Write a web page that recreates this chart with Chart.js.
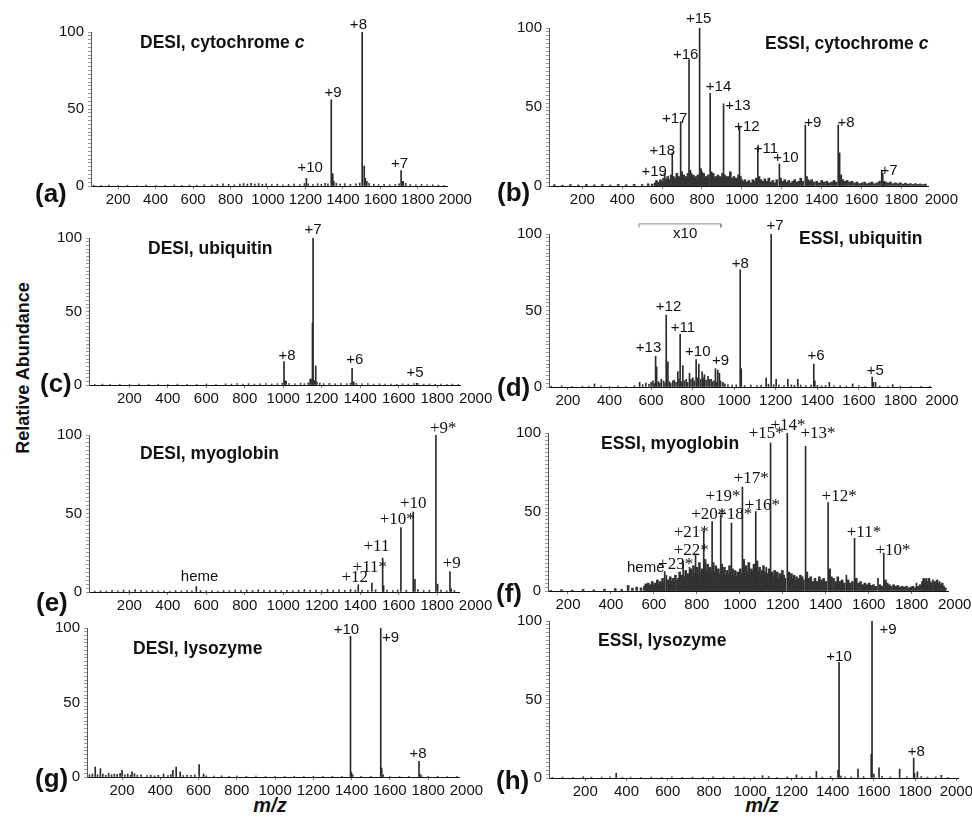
<!DOCTYPE html>
<html>
<head>
<meta charset="utf-8">
<script src="https://cdn.jsdelivr.net/npm/chart.js@4.4.1/dist/chart.umd.min.js"></script>
<style>
    body { margin: 0; width: 972px; height: 818px; position: relative; overflow: hidden; background: #fff; color: #111; font-family: "Liberation Sans", Arial, sans-serif; }
    canvas { position: absolute; }
    .title { position: absolute; font-weight: bold; font-size: 17.5px; white-space: nowrap; transform: translateY(-50%); }
    .letter { position: absolute; font-weight: bold; font-size: 26px; transform: translateY(-50%); }
    .ylab { position: absolute; left: 23px; top: 368px; font-weight: bold; font-size: 18px; white-space: nowrap; transform: translate(-50%, -50%) rotate(-90deg); }
    .xlab { position: absolute; font-weight: bold; font-style: italic; font-size: 20px; transform: translate(-50%, -50%); }
</style>
</head>
<body>
<div class="ylab">Relative Abundance</div>
<div class="xlab" style="left:270px;top:805px">m/z</div>
<div class="xlab" style="left:762px;top:805px">m/z</div>
<script>
// tick labels on every m/z axis
const mzTicks = [200, 400, 600, 800, 1000, 1200, 1400, 1600, 1800, 2000];
const yLabelTicks = [0, 50, 100];

// (a) DESI, cytochrome c  -- [m/z, relative abundance]
const aPeaks = [[1503, 100], [1514, 13], [1338, 56], [1346, 8], [1205, 5], [1711, 10], [1718, 3]];
const aNoise = [[70,0.5],[110,0.3],[150,0.6],[200,0.4],[250,0.5],[300,0.3],[350,0.6],[400,0.4],[450,0.5],[500,0.7],[540,0.4],[580,0.6],[620,0.5],[660,0.8],[700,0.6],[730,1.0],[760,1.4],[790,1.1],[820,0.8],[850,1.3],[870,1.6],[890,1.2],[910,1.8],[930,1.3],[950,1.6],[970,1.1],[990,1.4],[1020,0.9],[1050,1.2],[1080,0.8],[1110,1.0],[1140,1.3],[1170,0.9],[1195,1.6],[1215,1.4],[1240,1.0],[1265,1.5],[1285,1.1],[1305,1.8],[1320,1.4],[1352,3.0],[1365,1.8],[1385,1.2],[1410,1.5],[1440,1.1],[1470,1.4],[1490,1.9],[1520,5.0],[1528,3.0],[1540,1.8],[1565,1.2],[1590,0.9],[1620,1.1],[1650,0.8],[1680,1.0],[1700,1.4],[1722,3.0],[1735,1.8],[1760,1.0],[1790,0.8],[1820,1.0],[1850,0.7],[1880,0.8],[1910,0.6],[1940,0.5]];
const aLabelText = ['+10', '+9', '+8', '+7'];
const aLabelMz = [1225, 1347, 1483, 1702];
const aLabelY = [11.5, 60.6, 104.5, 14.7];

// (b) ESSI, cytochrome c
const bPeaks = [[788,100],[735,80],[841,58.7],[908,52],[988,37.5],[693,40.7],[651,21],[613,8],[1080,25],[1188,14],[1318,38.6],[1483,38.6],[1490,21],[1701,10],[1706,8]];
const bNoise = [[60,0.8],[100,0.5],[140,0.9],[180,0.6],[220,1.0],[260,0.7],[300,0.9],[340,0.6],[380,1.0],[420,0.8],[460,1.1],[500,0.9],[530,1.4],[550,1.2],
    [565,2],[572,3.5],[578,1.5],[585,2.5],[592,4],[598,2],[604,3],[608,5],[618,4.5],[622,3],[628,6],[634,3.5],[640,4],[645,7],[657,6],[662,4],[668,5],[674,8],[680,4.5],[686,6],[698,9],[703,6],[708,7],[714,4],[720,6],[726,5],[730,8],[740,10],[745,8],[750,6],[756,7],[762,5],[768,6],[774,4],[780,7],[793,11],[798,9],[803,7],[808,8],[814,5],[820,6],[826,4],[832,7],[846,9],[851,7],[856,8],[862,5],[868,6],[874,4.5],[880,7],[886,5],[892,6],[898,4],[903,8],[913,7],[918,5],[924,6],[930,4],[936,6],[942,9],[948,5],[954,4],[960,6],[966,3.5],[972,5],[978,4],[983,7],[993,6],[998,4],
    [1005,3],[1015,4],[1025,2.5],[1035,3.5],[1045,2],[1055,4],[1065,3],[1072,5],[1086,6],[1095,4],[1105,3],[1115,4.5],[1125,3],[1135,5],[1145,2.5],[1155,3.5],[1165,2],[1175,4],[1194,5],[1205,3],[1215,4],[1225,2.5],[1235,3.5],[1245,2],[1255,3],[1265,4],[1275,2.5],[1285,3],[1295,5],[1305,3],[1324,6],[1332,4],[1340,3],[1350,4],[1362,2.5],[1375,3],[1388,2],[1400,3.5],[1412,2.5],[1425,3],[1438,2],[1450,2.5],[1462,3.5],[1472,2.5],[1496,7],[1505,4],[1515,3],[1528,3.5],[1540,2.5],[1552,3],[1565,2],[1578,2.5],[1590,1.5],[1602,2],[1615,2.5],[1628,1.5],[1640,2],[1652,2.5],[1665,1.5],[1678,2],[1690,3],[1712,3],[1720,2.5],[1732,2],[1745,2.5],[1758,1.5],[1770,2],[1782,1.5],[1795,2],[1808,1.2],[1820,1.8],[1832,1.2],[1845,1.5],[1858,1],[1870,1.5],[1882,1],[1895,1.3],[1908,0.9],[1920,1.2]];
const bLabelText = ['+19','+18','+17','+16','+15','+14','+13','+12','+11','+10','+9','+8','+7'];
const bLabelMz = [560, 601, 663, 718, 783, 883, 980, 1025, 1121, 1221, 1355, 1522, 1738];
const bLabelY = [9, 22.4, 42.8, 83, 105.5, 62.5, 50.8, 37.5, 23.4, 17.5, 39.7, 39.7, 9.7];

// (c) DESI, ubiquitin
const cPeaks = [[1155,100],[1152,42],[1169,13],[1140,4],[1004,15.9],[1010,3],[1358,11.4],[1365,2],[1694,1.2]];
const cNoise = [[20,0.4],[60,0.6],[100,0.3],[150,0.5],[200,0.4],[250,0.6],[300,0.4],[350,0.5],[400,0.3],[450,0.6],[500,0.5],[550,0.4],[600,0.7],[650,0.5],[700,0.8],[730,0.6],[760,1.0],[790,0.7],[820,0.9],[850,0.6],[880,0.8],[910,1.0],[940,0.7],[970,0.9],[995,1.2],[1015,2.5],[1030,1.0],[1060,0.8],[1090,1.1],[1110,0.9],[1130,1.5],[1145,4.0],[1162,3.0],[1175,2.0],[1190,1.2],[1210,0.9],[1240,1.1],[1270,0.8],[1300,1.0],[1330,0.9],[1350,1.3],[1366,2.0],[1380,1.1],[1410,0.8],[1440,0.9],[1470,0.6],[1500,0.8],[1530,0.6],[1560,0.7],[1590,0.5],[1620,0.8],[1650,0.6],[1680,1.0],[1700,0.9],[1730,0.6],[1760,0.7],[1790,0.5],[1820,0.6],[1850,0.4],[1880,0.6],[1910,0.4]];
const cLabelText = ['+8', '+7', '+6', '+5'];
const cLabelMz = [1020, 1155, 1372, 1685];
const cLabelY = [20, 105.7, 17, 8.4];

// (d) ESSI, ubiquitin (560-940 region shown x10)
const dPeaks = [[1178,100],[1029,76.6],[1034,12],[673,47],[681,16.4],[740,34.4],[753,14],[622,20],[627,13],[817,18],[830,15],[910,12],[921,11],[929,9],[1383,15],[1388,4],[1664,6.5],[1669,3],[545,3],[609,4],[649,5],[705,4],[729,10],[769,5],[785,9],[801,6],[846,10],[857,8],[874,7],[889,5],[946,3],[328,2],[1154,6],[1202,5],[1258,5],[1306,5],[1458,3],[1570,2],[1680,3],[1763,1.5]];
const dNoise = [[120,0.5],[170,0.8],[220,0.4],[270,0.6],[300,0.5],[360,0.7],[400,0.4],[440,0.6],[480,0.5],[520,0.9],[560,1.5],[575,2.5],[590,1.8],[600,3],[615,2.2],[635,3.5],[642,2.5],[660,4],[667,2.8],[688,3.5],[695,2.5],[712,4.5],[720,3],[735,5],[746,3.5],[760,4],[776,3],[792,5],[808,4],[822,6],[838,5],[852,6],[865,4.5],[880,5],[895,3.5],[903,4],[915,3],[935,4],[955,2],[970,1.5],[990,1.2],[1010,1.4],[1050,1.0],[1080,1.3],[1110,0.9],[1130,1.2],[1165,1.8],[1190,1.5],[1215,1.2],[1240,1.0],[1275,1.4],[1290,1.1],[1320,1.3],[1345,0.9],[1370,1.2],[1400,1.1],[1420,0.8],[1440,1.0],[1480,0.7],[1510,0.9],[1540,0.6],[1600,0.8],[1630,0.5],[1700,0.7],[1740,0.5],[1800,0.6],[1850,0.4],[1900,0.5],[1940,0.4]];
const dLabelText = ['x10','+13','+12','+11','+10','+9','+8','+7','+6','+5'];
const dLabelMz = [764, 588, 684, 753, 825, 934, 1029, 1197, 1394, 1679];
const dLabelY = [100, 25.9, 52.5, 38.7, 23, 16.9, 80.3, 105.6, 20.3, 10.5];
const dBracketMz = [542, 542, 936, 936];
const dBracketY = [104.3, 106.6, 106.6, 104.3];

// (e) DESI, myoglobin
const ePeaks = [[1794,100],[1803,5],[1676,51],[1685,8],[1612,41],[1517,21.6],[1522,4],[1461,5.7],[1390,4.6],[1867,13],[1873,2],[548,3.5]];
const eNoise = [[20,0.5],[50,0.8],[80,0.6],[110,1.0],[140,0.7],[170,1.2],[200,0.9],[230,1.5],[260,1.0],[290,0.7],[320,0.9],[350,0.6],[380,0.8],[410,0.5],[440,0.9],[470,0.7],[500,1.1],[525,0.8],[570,1.0],[600,0.7],[630,0.9],[660,0.6],[690,1.0],[720,0.8],[750,1.2],[780,0.9],[810,1.3],[840,1.0],[870,1.4],[900,1.1],[930,0.9],[960,1.2],[990,0.8],[1020,1.1],[1050,0.9],[1080,1.2],[1110,1.5],[1140,1.0],[1170,1.3],[1200,0.9],[1230,1.6],[1260,1.1],[1290,1.4],[1320,1.0],[1350,1.6],[1375,1.2],[1410,1.3],[1440,1.0],[1480,1.4],[1540,1.2],[1570,0.9],[1595,1.3],[1640,1.1],[1700,1.5],[1730,1.0],[1760,1.2],[1820,1.3],[1850,0.8],[1890,1.0],[1920,0.6]];
const eLabelText = ['heme','+12','+11*','+11','+10*','+10','+9*','+9'];
const eLabelMz = [565, 1372, 1450, 1485, 1593, 1676, 1832, 1876];
const eLabelY = [9.9, 8.9, 15.9, 29, 46, 56.1, 104.3, 18];

// (f) ESSI, myoglobin
const fPeaks = [[1221,100],[1143,93.7],[1306,91.5],[1411,56],[1534,33.4],[1670,24],[1012,65.8],[1074,50.3],[961,43],[911,48.2],[871,44],[832,38],[794,23.3],[766,15],[736,18.6],[708,7],[650,12.3],[658,10],[1123,15],[1496,10],[1643,8],[1822,5],[1868,8],[1899,7],[1930,6]];
const fNoise = [[120,0.5],[170,0.8],[220,0.6],[270,1.0],[320,0.7],[370,1.2],[420,1.5],[450,1.0],[480,3.5],[500,1.8],[520,2.5],[540,2.0],
    [556,3],[562,4.5],[568,2.5],[574,5],[580,3],[586,4],[592,6],[598,3.5],[604,5],[610,4],[616,7],[622,4.5],[628,6],[634,5],[640,8],[646,5.5],[664,7],[670,5],[676,9],[682,6],[688,8],[694,5],[700,10],[714,8],[720,12],[726,7],[730,10],[742,9],[748,13],[754,8],[760,11],[772,14],[778,9],[784,16],[788,11],[800,15],[806,10],[812,18],[818,12],[824,14],[838,20],[844,13],[850,17],[856,11],[862,15],[866,12],[876,18],[882,12],[888,16],[894,10],[900,14],[906,11],[916,17],[922,12],[928,15],[934,10],[940,13],[946,11],[952,16],[956,12],[966,14],[972,10],[978,13],[984,9],[990,12],[996,10],[1002,14],[1006,11],[1018,20],[1024,13],[1030,16],[1036,12],[1042,18],[1048,11],[1054,14],[1060,12],[1066,17],[1080,19],[1086,12],[1092,15],[1098,10],[1104,13],[1110,16],[1116,12],[1130,11],[1136,14],[1150,12],[1156,9],[1162,13],[1168,10],[1174,12],[1180,8],[1186,11],[1192,9],[1198,13],[1204,10],[1210,8],[1228,12],[1234,9],[1240,11],[1246,8],[1252,10],[1258,7],[1264,9],[1270,7],[1276,8],[1282,10],[1290,9],[1296,7],
    [1312,12],[1320,8],[1330,9],[1340,6],[1350,8],[1360,6],[1370,9],[1380,7],[1390,8],[1400,6],[1418,14],[1426,9],[1436,8],[1446,6],[1456,9],[1466,6],[1476,7],[1486,5],[1504,7],[1514,5],[1524,6],[1542,8],[1552,5],[1562,6],[1572,4],[1582,5],[1592,4],[1602,5],[1612,3.5],[1622,4],[1632,3],[1652,4],[1662,3],[1678,7],[1686,5],[1696,4],[1706,3],[1716,4],[1726,3],[1736,3.5],[1746,2.5],[1756,3],[1766,2.5],[1776,3],[1786,2],[1796,2.5],[1806,3],[1814,2],[1830,3],[1840,4],[1850,6],[1856,8],[1862,7],[1874,6],[1880,8],[1886,6],[1892,5],[1906,6],[1912,5],[1918,7],[1924,5],[1936,4],[1942,5],[1948,3],[1956,2]];
const fLabelText = ['heme','+23*','+22*','+21*','+20*','+19*','+18*','+17*','+16*','+15*','+14*','+13*','+12*','+11*','+10*'];
const fLabelMz = [562, 701, 774, 774, 855, 922, 976, 1053, 1105, 1123, 1224, 1364, 1462, 1578, 1713];
const fLabelY = [14.4, 16.5, 25.4, 37.2, 48.2, 59.8, 48.2, 71, 53.9, 99.4, 104.6, 99.4, 59.8, 37.2, 25.6];

// (g) DESI, lysozyme
const gPeaks = [[1394,94.5],[1399,3],[1552,100],[1557,6],[1752,10.6],[1756,2],[60,6.7],[87,5.6],[200,4.5],[252,3.4],[417,2],[466,4.5],[483,6.7],[504,3.4],[603,8.3],[626,2]];
const gNoise = [[30,1.5],[45,2],[72,1.5],[100,2],[115,1.2],[130,2.5],[145,1.5],[160,2],[175,1.8],[190,2.5],[215,1.5],[230,2],[245,1.2],[265,2.2],[280,1.2],[300,1.5],[330,1],[350,1.3],[370,0.8],[390,1.2],[440,1],[455,1.5],[520,1],[540,1.3],[560,1.1],[580,1.4],[640,0.8],[680,0.6],[720,0.8],[760,0.5],[800,0.7],[850,0.5],[900,0.6],[950,0.4],[1000,0.5],[1050,0.4],[1100,0.5],[1150,0.3],[1200,0.5],[1250,0.4],[1300,0.5],[1350,0.4],[1405,1.5],[1450,0.5],[1500,0.4],[1565,1.5],[1600,0.5],[1650,0.4],[1700,0.5],[1765,1],[1800,0.4],[1850,0.5],[1900,0.3],[1950,0.4]];
const gLabelText = ['+10', '+9', '+8'];
const gLabelMz = [1373, 1603, 1747];
const gLabelY = [98.9, 93.3, 15.3];

// (h) ESSI, lysozyme
const hPeaks = [[1591,100],[1587,15],[1431,73.7],[1426,5],[1793,12.7],[1797,3],[1523,5.7],[1625,6.4],[1725,5.7],[1321,4.2],[1224,2],[1811,4],[1927,1.7],[350,3],[1060,1.5]];
const hNoise = [[40,0.4],[90,0.6],[140,0.5],[190,0.8],[230,0.6],[280,0.5],[320,0.7],[380,0.5],[420,0.6],[470,0.4],[520,0.6],[570,0.5],[620,0.7],[670,0.4],[720,0.6],[770,0.5],[820,0.7],[870,0.5],[920,0.8],[970,0.5],[1020,0.6],[1090,0.9],[1130,0.5],[1180,0.7],[1250,0.6],[1290,0.8],[1350,0.6],[1390,0.9],[1440,1.2],[1460,0.8],[1490,0.7],[1550,0.9],[1600,2.5],[1640,1.0],[1680,0.7],[1760,0.8],[1830,1.0],[1860,0.6],[1900,0.7],[1960,0.5]];
const hLabelText = ['+10', '+9', '+8'];
const hLabelMz = [1431, 1669, 1806];
const hLabelY = [77.3, 94.3, 16.9];

// panel layout: axis ranges and where the plot area sits on the page
const panels = [
    { letter: '(a)', title: 'DESI, cytochrome <i>c</i>', peaks: aPeaks, noise: aNoise, lt: aLabelText, lx: aLabelMz, ly: aLabelY,
      xMin: 55, xMax: 1956, L: 91, R: 447, T: 32, B: 186, titlePos: [140, 42], letterPos: [35, 193] },
    { letter: '(b)', title: 'ESSI, cytochrome <i>c</i>', peaks: bPeaks, noise: bNoise, lt: bLabelText, lx: bLabelMz, ly: bLabelY, noiseW: 2,
      xMin: 33, xMax: 1933, L: 549, R: 928, T: 28, B: 186, titlePos: [765, 43], letterPos: [497, 192] },
    { letter: '(c)', title: 'DESI, ubiquitin', peaks: cPeaks, noise: cNoise, lt: cLabelText, lx: cLabelMz, ly: cLabelY,
      xMin: -10, xMax: 1919, L: 89, R: 460, T: 238, B: 385, titlePos: [148, 248], letterPos: [40, 383] },
    { letter: '(d)', title: 'ESSI, ubiquitin', peaks: dPeaks, noise: dNoise, lt: dLabelText, lx: dLabelMz, ly: dLabelY,
      xMin: 109, xMax: 1947, L: 549, R: 931, T: 234, B: 387, titlePos: [799, 238], letterPos: [497, 387],
      bracket: [dBracketMz, dBracketY] },
    { letter: '(e)', title: 'DESI, myoglobin', peaks: ePeaks, noise: eNoise, lt: eLabelText, lx: eLabelMz, ly: eLabelY, serif: true,
      xMin: -10, xMax: 1914, L: 89, R: 459, T: 435, B: 592, titlePos: [140, 453], letterPos: [36, 602] },
    { letter: '(f)', title: 'ESSI, myoglobin', peaks: fPeaks, noise: fNoise, lt: fLabelText, lx: fLabelMz, ly: fLabelY, serif: true, noiseW: 2,
      xMin: 107, xMax: 1969, L: 548, R: 948, T: 433, B: 591, titlePos: [601, 443], letterPos: [496, 593] },
    { letter: '(g)', title: 'DESI, lysozyme', peaks: gPeaks, noise: gNoise, lt: gLabelText, lx: gLabelMz, ly: gLabelY,
      xMin: 17, xMax: 1961, L: 87, R: 459, T: 628, B: 777, titlePos: [133, 648], letterPos: [35, 778] },
    { letter: '(h)', title: 'ESSI, lysozyme', peaks: hPeaks, noise: hNoise, lt: hLabelText, lx: hLabelMz, ly: hLabelY,
      xMin: 24, xMax: 2008, L: 549, R: 958, T: 621, B: 778, titlePos: [598, 640], letterPos: [496, 780] }
];

Chart.defaults.font.family = '"Liberation Sans", Arial, sans-serif';
Chart.defaults.color = '#111';

const YW = 48, PT = 36, PR = 40, XH = 30;

function addText(cls, html, x, y) {
    const el = document.createElement('div');
    el.className = cls;
    el.innerHTML = html;
    el.style.left = x + 'px';
    el.style.top = y + 'px';
    document.body.appendChild(el);
}

function makePanel(p) {
    const cv = document.createElement('canvas');
    cv.width = p.R - p.L + YW + PR;
    cv.height = p.B - p.T + PT + XH;
    cv.style.left = (p.L - YW) + 'px';
    cv.style.top = (p.T - PT) + 'px';
    document.body.appendChild(cv);

    const toXY = d => ({ x: d[0], y: d[1] });
    const datasets = [
        { type: 'bar', data: p.noise.map(toXY), backgroundColor: '#333', barThickness: p.noiseW || 1, borderWidth: 0, grouped: false },
        { type: 'bar', data: p.peaks.map(toXY), backgroundColor: '#2a2a2a', barThickness: 1, borderWidth: 0, grouped: false }
    ];
    if (p.bracket) {
        datasets.push({
            type: 'line',
            data: p.bracket[0].map((x, i) => ({ x: x, y: p.bracket[1][i] })),
            borderColor: '#888', borderWidth: 1, pointRadius: 0, clip: false
        });
    }

    // charge state labels above the peaks
    const peakLabels = {
        id: 'peakLabels',
        afterDatasetsDraw(chart) {
            const ctx = chart.ctx, xs = chart.scales.x, ys = chart.scales.y;
            ctx.save();
            ctx.fillStyle = '#111';
            ctx.textAlign = 'center';
            ctx.textBaseline = 'middle';
            p.lt.forEach((t, i) => {
                if (p.serif && t !== 'heme') ctx.font = '17px "Liberation Serif", "Times New Roman", serif';
                else ctx.font = '15px "Liberation Sans", Arial, sans-serif';
                ctx.fillText(t, xs.getPixelForValue(p.lx[i]), ys.getPixelForValue(p.ly[i]));
            });
            ctx.restore();
        }
    };

    new Chart(cv, {
        type: 'bar',
        data: { datasets: datasets },
        options: {
            responsive: false,
            animation: false,
            layout: { padding: { left: 0, top: PT, right: PR, bottom: 0 } },
            plugins: { legend: { display: false }, tooltip: { enabled: false } },
            scales: {
                x: {
                    type: 'linear', offset: false, min: p.xMin, max: p.xMax,
                    afterBuildTicks: axis => { axis.ticks = mzTicks.map(v => ({ value: v })); },
                    afterFit: s => { s.height = XH; s.paddingLeft = 0; s.paddingRight = 0; },
                    ticks: { autoSkip: false, maxRotation: 0, minRotation: 0, padding: 2, font: { size: 15 }, callback: v => String(v) },
                    grid: { display: true, drawOnChartArea: false, offset: false, tickLength: 3,
                            color: c => (c.tick && c.tick.value > p.xMax) ? 'rgba(0,0,0,0)' : '#777' },
                    border: { display: true, color: '#111', width: 1 }
                },
                y: {
                    min: 0, max: 100,
                    afterFit: s => { s.width = YW; s.paddingTop = 0; s.paddingBottom = 0; },
                    ticks: { stepSize: 2.5, autoSkip: false, padding: 4, font: { size: 15 },
                             callback: v => yLabelTicks.includes(v) ? String(v) : '' },
                    grid: { display: true, drawOnChartArea: false, tickLength: 3, color: '#999' },
                    border: { display: true, color: '#555', width: 1 }
                }
            }
        },
        plugins: [peakLabels]
    });

    addText('title', p.title, p.titlePos[0], p.titlePos[1]);
    addText('letter', p.letter, p.letterPos[0], p.letterPos[1]);
}

panels.forEach(makePanel);
</script>
</body>
</html>
